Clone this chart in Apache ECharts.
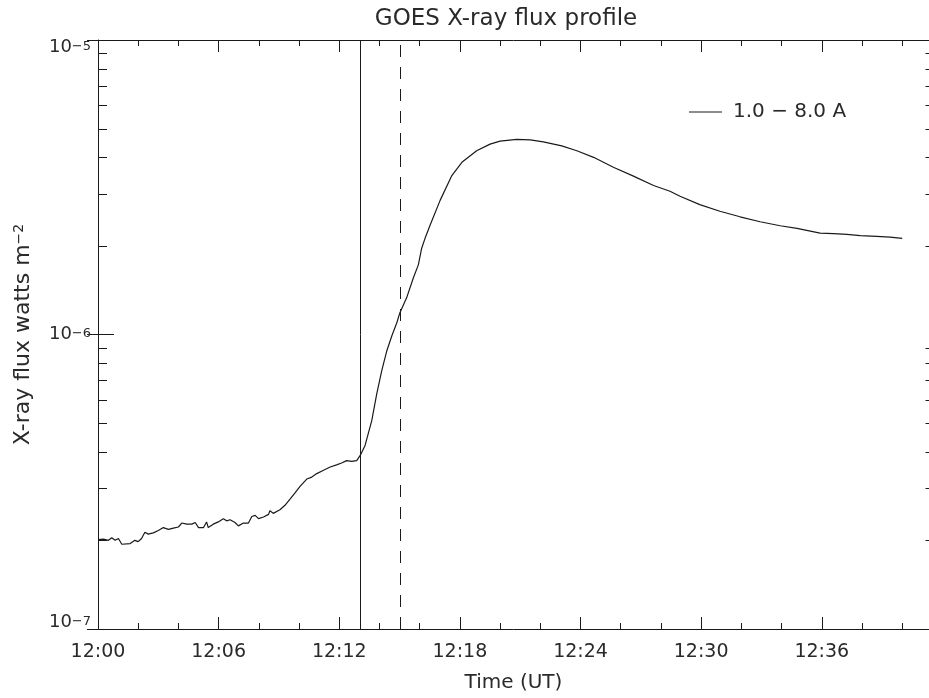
<!DOCTYPE html>
<html>
<head>
<meta charset="utf-8">
<script src="https://cdn.jsdelivr.net/npm/echarts@6/dist/echarts.min.js"></script>
<style>
  html, body { margin: 0; padding: 0; background: #ffffff; overflow: hidden; }
  #chart { width: 929px; height: 698px; }
</style>
</head>
<body>
<div id="chart"></div>
<script>
// GOES 1.0-8.0 A channel, seconds after 12:00:00 UT
const tSec = [
  0, 16, 31, 41, 51, 61, 71, 76, 96, 110, 120, 130, 140, 150, 165, 180, 185, 195,
  210, 225, 240, 250, 265, 280, 290, 300, 315, 324, 329, 344, 359, 374, 384, 394,
  409, 419, 434, 449, 459, 469, 479, 494, 509, 513, 523, 543, 558, 573, 588, 603,
  623, 638, 653, 673, 693, 712, 727, 732, 742, 757, 772, 784, 797, 817, 832, 847,
  862, 877, 892, 901, 921, 941, 956, 966, 976, 991, 1021, 1056, 1086, 1130, 1170,
  1200, 1250, 1290, 1329, 1384, 1429, 1479, 1538, 1598, 1658, 1707, 1737, 1796,
  1856, 1916, 1976, 2036, 2086, 2115, 2155, 2195, 2235, 2275, 2324, 2364, 2400
];
// flux in watts m^-2
const flux = [
  2.01e-7, 2.02e-7, 2.00e-7, 2.04e-7, 2.00e-7, 2.03e-7, 1.94e-7, 1.92e-7, 1.95e-7,
  2.00e-7, 1.98e-7, 2.03e-7, 2.13e-7, 2.10e-7, 2.12e-7, 2.16e-7, 2.18e-7, 2.21e-7,
  2.18e-7, 2.20e-7, 2.22e-7, 2.29e-7, 2.27e-7, 2.27e-7, 2.30e-7, 2.21e-7, 2.21e-7,
  2.31e-7, 2.21e-7, 2.27e-7, 2.31e-7, 2.37e-7, 2.33e-7, 2.35e-7, 2.30e-7, 2.24e-7,
  2.29e-7, 2.29e-7, 2.41e-7, 2.43e-7, 2.37e-7, 2.40e-7, 2.45e-7, 2.52e-7, 2.47e-7,
  2.54e-7, 2.63e-7, 2.76e-7, 2.90e-7, 3.05e-7, 3.23e-7, 3.28e-7, 3.37e-7, 3.46e-7,
  3.55e-7, 3.61e-7, 3.66e-7, 3.61e-7, 3.73e-7, 3.71e-7, 3.73e-7, 3.91e-7, 4.20e-7,
  5.10e-7, 6.30e-7, 7.55e-7, 8.81e-7, 9.90e-7, 1.098e-6, 1.186e-6, 1.332e-6,
  1.555e-6, 1.724e-6, 1.963e-6, 2.121e-6, 2.351e-6, 2.854e-6, 3.465e-6, 3.843e-6,
  4.206e-6, 4.430e-6, 4.535e-6, 4.595e-6, 4.580e-6, 4.509e-6, 4.371e-6, 4.206e-6,
  3.996e-6, 3.698e-6, 3.449e-6, 3.207e-6, 3.065e-6, 2.949e-6, 2.761e-6, 2.621e-6,
  2.510e-6, 2.414e-6, 2.340e-6, 2.292e-6, 2.257e-6, 2.210e-6, 2.200e-6, 2.188e-6,
  2.166e-6, 2.154e-6, 2.142e-6, 2.121e-6
];

const seriesName = '1.0 \u2212 8.0 A';
const startLabelHour = 12;
const timeRange = [0, 2480];          // seconds after 12:00:00 visible in the frame
const majorTicks = [0, 360, 720, 1080, 1440, 1800, 2160];              // 6 min
const minorTicks = [120, 240, 480, 600, 840, 960, 1200, 1320,
                    1560, 1680, 1920, 2040, 2280, 2400];               // 2 min
const fluxRange = [1e-7, 1e-5];
const fluxMinorTicks = [2e-7, 3e-7, 4e-7, 5e-7, 6e-7, 7e-7, 8e-7, 9e-7,
                        2e-6, 3e-6, 4e-6, 5e-6, 6e-6, 7e-6, 8e-6, 9e-6];
const startMarker = 784;              // 12:13:04
const endMarker = 901;                // 12:15:01

const FONT = 'DejaVu Sans';
const INK = '#1a1a1a';
const TXT = '#2a2a2a';

function timeLabel(v) {
  const m = Math.round(v / 60);
  return startLabelHour + ':' + String(m).padStart(2, '0');
}

function expLabel(v) {
  const e = Math.round(Math.log10(v));
  return '{b|10}{s|\u2212' + (-e) + '}';
}

function xAxisDef(position, ticks, tickLen, showLine, showLabel) {
  return {
    type: 'value', position: position,
    min: timeRange[0], max: timeRange[1],
    axisLine: { show: showLine, onZero: false, lineStyle: { color: INK, width: 1 } },
    axisTick: {
      show: true, inside: true, length: tickLen, customValues: ticks,
      lineStyle: { color: INK, width: 1 }
    },
    axisLabel: {
      show: showLabel, customValues: majorTicks, formatter: timeLabel, margin: 14,
      fontFamily: FONT, fontSize: 19, color: TXT
    },
    splitLine: { show: false }
  };
}

const chart = echarts.init(document.getElementById('chart'), null, { renderer: 'canvas' });

const option = {
  animation: false,
  backgroundColor: '#ffffff',
  title: {
    text: 'GOES X-ray flux profile',
    left: 501, top: 3, textAlign: 'center',
    textStyle: { fontFamily: FONT, fontSize: 23, fontWeight: 'normal', color: TXT }
  },
  legend: {
    data: [seriesName],
    left: 684, top: 97,
    icon: 'rect', itemWidth: 33, itemHeight: 1,
    itemStyle: { color: INK },
    textStyle: { fontFamily: FONT, fontSize: 20, color: TXT, padding: [0, 0, 0, 6] }
  },
  grid: { left: 98, top: 40, right: 0, height: 594, containLabel: false },
  xAxis: [
    Object.assign(xAxisDef('bottom', majorTicks, 12, true, true), {
      name: 'Time (UT)', nameLocation: 'middle', nameGap: 44,
      nameTextStyle: { fontFamily: FONT, fontSize: 20, color: TXT }
    }),
    xAxisDef('bottom', minorTicks, 6, false, false),
    xAxisDef('top', majorTicks, 12, true, false),
    xAxisDef('top', minorTicks, 6, false, false)
  ],
  yAxis: [
    {
      type: 'log', logBase: 10, position: 'left',
      min: fluxRange[0], max: fluxRange[1],
      name: '{t|X-ray flux watts m}{s|\u22122}',
      nameLocation: 'middle', nameGap: 64, nameRotate: 90,
      nameTextStyle: {
        rich: {
          t: { fontFamily: FONT, fontSize: 22, color: TXT },
          s: { fontFamily: FONT, fontSize: 14, color: TXT, verticalAlign: 'top' }
        }
      },
      axisLine: { show: true, onZero: false, lineStyle: { color: INK, width: 1 } },
      axisTick: { show: true, inside: true, length: 16, lineStyle: { color: INK, width: 1 } },
      axisLabel: {
        formatter: expLabel, margin: 7,
        verticalAlignMinLabel: 'bottom', verticalAlignMaxLabel: 'top',
        rich: {
          b: { fontFamily: FONT, fontSize: 18, lineHeight: 14, color: TXT },
          s: { fontFamily: FONT, fontSize: 13, lineHeight: 4, color: TXT, verticalAlign: 'top' }
        }
      },
      splitLine: { show: false }
    },
    {
      // the right-hand frame edge sits just past the window; only tick stubs show
      type: 'log', logBase: 10, position: 'right',
      min: fluxRange[0], max: fluxRange[1],
      axisLine: { show: false },
      axisTick: { show: true, inside: true, length: 11, lineStyle: { color: INK, width: 1 } },
      axisLabel: { show: false },
      splitLine: { show: false }
    }
  ],
  series: [
    {
      name: seriesName,
      type: 'line',
      xAxisIndex: 0, yAxisIndex: 0,
      data: tSec.map((t, i) => [t, flux[i]]),
      showSymbol: false, symbol: 'none',
      lineStyle: { color: INK, width: 1.2 },
      itemStyle: { color: INK },
      markLine: {
        silent: true, symbol: ['none', 'none'],
        label: { show: false },
        lineStyle: { color: INK, width: 1 },
        data: [
          { xAxis: startMarker, lineStyle: { type: 'solid', color: INK, width: 1 } },
          { xAxis: endMarker, lineStyle: { type: [12, 10], color: INK, width: 1 } }
        ]
      }
    },
    {
      // logarithmic minor ticks at 2..9 x 10^n on both vertical edges
      name: 'minor ticks',
      type: 'custom',
      xAxisIndex: 0, yAxisIndex: 0,
      silent: true, clip: false, z: 3,
      data: fluxMinorTicks.map(v => [timeRange[0], v]),
      renderItem: function (params, api) {
        const cs = params.coordSys;
        const y = Math.round(api.coord([timeRange[0], api.value(1)])[1]) + 0.5;
        const st = { stroke: INK, lineWidth: 1 };
        const right = cs.x + cs.width;
        return {
          type: 'group',
          children: [
            { type: 'line', shape: { x1: cs.x, y1: y, x2: cs.x + 9, y2: y }, style: st },
            { type: 'line', shape: { x1: right, y1: y, x2: right - 3.5, y2: y }, style: st }
          ]
        };
      }
    }
  ]
};

chart.setOption(option);
</script>
</body>
</html>
